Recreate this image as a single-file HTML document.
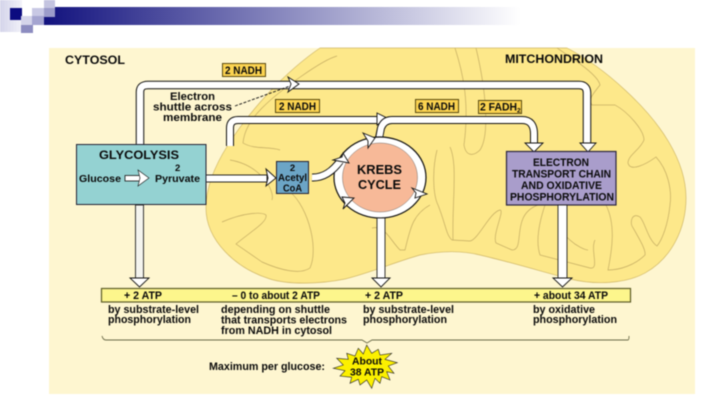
<!DOCTYPE html>
<html><head><meta charset="utf-8"><style>
html,body{margin:0;padding:0;background:#fff;width:720px;height:405px;overflow:hidden}
svg{display:block;filter:blur(0.45px)}
text{font-family:"Liberation Sans",sans-serif;font-weight:bold;fill:#0a0a0a;font-size:10.8px}
.c{fill:none;stroke:#c4ac62;stroke-width:.7}
.k{fill:none;stroke:#111;stroke-linejoin:round}
.w{fill:none;stroke:#fff;stroke-linejoin:round}
.h{fill:#fff;stroke:#111;stroke-width:.9;stroke-linejoin:miter}
.n{fill:#fbd350;stroke:#5a4a10;stroke-width:1}
</style></head><body>
<svg width="720" height="405" viewBox="0 0 720 405" xmlns="http://www.w3.org/2000/svg">
<defs>
<linearGradient id="g" x1="0" x2="1" y1="0" y2="0"><stop offset="0" stop-color="#12127e"/><stop offset="1" stop-color="#fff"/></linearGradient>
<linearGradient id="l" x1="0" x2="1" y1="0" y2="0"><stop offset="0" stop-color="#d4d4ea"/><stop offset="1" stop-color="#fff"/></linearGradient>
</defs>
<rect x="44" y="7" width="476" height="18" fill="url(#g)"/>
<rect x="0" y="0" width="32" height="32" fill="url(#l)"/>
<rect x="10" y="8" width="12" height="12" fill="#0c0c80"/>
<rect x="22" y="0" width="22" height="20" fill="#fff"/>
<rect x="32" y="8" width="12" height="8" fill="#c8c8e4"/>
<rect x="44" y="0" width="11" height="8" fill="#c4c4e0"/>
<rect x="44" y="8" width="11" height="9" fill="#9c9cca"/>
<rect x="32" y="16" width="12" height="9" fill="#a4a4d0"/>
<rect x="21" y="16" width="11" height="9" fill="#d4d4ea"/>
<rect x="21" y="25" width="12" height="8" fill="#8c8cc0"/>

<rect x="49" y="48" width="646" height="346" fill="#fef6d0"/>
<path d="M320 48 C285 72 250 110 228 145 C212 170 206 190 206 208 C206 240 235 268 270 279 C290 285 320 284 345 279 C370 273 395 262 420 255 C440 251 460 250 480 255 C510 262 540 271 570 279 C595 285 625 284 645 273 C672 258 686 228 686 198 C686 160 660 122 625 90 C610 76 590 60 567 48 Z" fill="#fde88a" stroke="#d0b868" stroke-width=".7"/>

<path class="c" d="M337 56 C322 60 280 90 262 108 C250 120 244 132 243 143 C255 150 268 146 280 150"/>
<path class="c" d="M230 160 C260 165 275 190 272 200 M287 190 C305 200 320 245 310 268 C300 275 280 270 262 262 L236 244 C250 232 268 222 266 215 C262 212 245 212 222 222 M284 262"/>
<path class="c" d="M455 48 C462 70 470 100 464 145 C466 157 474 156 480 150 C490 135 486 90 476 48"/>
<path class="c" d="M437 150 C432 170 433 195 438 205 C446 225 446 235 452 240 L470 241 C478 240 490 212 500 210 C505 210 492 235 496 243 L512 250 C526 250 510 215 538 205"/>
<path class="c" d="M450 147 C458 165 452 200 453 240"/>
<path class="c" d="M430 205 C412 215 410 230 405 250 L400 250 C390 240 385 225 372 228"/>
<path class="c" d="M557 48 C575 60 598 75 600 85 C592 95 588 100 592 105 L615 105 C628 112 644 130 644 140 C640 150 628 155 628 163 C630 172 645 165 656 157 C668 170 672 190 670 205 C668 225 662 240 657 246 C648 240 645 222 640 217 C632 212 630 222 632 226 C640 240 646 250 645 255 C635 265 620 270 608 270 C612 250 616 225 606 205 M545 205 C540 220 535 240 540 255 L590 268 C600 270 590 250 595 240"/>
<path class="c" d="M560 215 C555 235 582 250 588 250"/>

<!-- shuttle arrow -->
<path class="k" stroke-width="8.500" d="M140 146 V92 Q140 85 148 85 H579 Q587 85 587 93 V144"/>
<path class="w" stroke-width="6.500" d="M140 146 V92 Q140 85 148 85 H579 Q587 85 587 93 V145"/>
<polygon class="h" points="580,143 596,143 588,152"/>
<polygon class="h" points="288,77 299,84 288,92 291,84"/>
<!-- second arrow -->
<path class="k" stroke-width="8" d="M230 146 V128 Q230 120 238 120 H378"/>
<path class="w" stroke-width="6" d="M230 146 V128 Q230 120 238 120 H379"/>
<polygon class="h" points="377,113 387,118 377,125"/>
<!-- krebs out arrow -->
<path class="k" stroke-width="8" d="M379 138 L381 128 Q384 120 392 120 H522 Q534 120 534 134 V144"/>
<path class="w" stroke-width="6" d="M379 139 L381 128 Q384 120 392 120 H522 Q534 120 534 134 V145"/>
<polygon class="h" points="525,143 543,143 534,152"/>

<!-- Krebs -->
<ellipse cx="380" cy="177.500" rx="46" ry="40.500" fill="#fff" stroke="#111" stroke-width="1.200"/>
<ellipse cx="380" cy="177.500" rx="37.500" ry="34.500" fill="#f7b998" stroke="#555" stroke-width=".4"/>
<polygon class="h" points="363,133 375,138 368,148 368,141"/>
<polygon class="h" points="412,188 427,194 415,198 416,193"/>
<polygon class="h" points="342,197 354,198 343,209 345,203"/>
<text x="357" y="174" textLength="45" lengthAdjust="spacingAndGlyphs" style="font-size:12.500px">KREBS</text>
<text x="358" y="189" textLength="43" lengthAdjust="spacingAndGlyphs" style="font-size:12.500px">CYCLE</text>

<!-- Pyruvate to acetyl -->
<rect x="206" y="175" width="61" height="7" fill="#fff" stroke="#111" stroke-width=".9"/>
<polygon class="h" points="266,169 276,178 266,186 268,178"/>
<!-- Acetyl to Krebs -->
<path class="k" stroke-width="8" d="M312 177.500 Q328 178 340 161"/>
<path class="w" stroke-width="6" d="M312 177.500 Q328 178 341 160"/>
<polygon class="h" points="333,160 349,163 343,153 342,157"/>

<!-- boxes -->
<rect x="76.500" y="144.500" width="129.500" height="60" fill="#94d2d2" stroke="#223" stroke-width="1"/>
<text x="99" y="159" textLength="80" lengthAdjust="spacingAndGlyphs" style="font-size:11.500px">GLYCOLYSIS</text>
<text x="175" y="171" style="font-size:9.500px">2</text>
<text x="79" y="182" textLength="42" lengthAdjust="spacingAndGlyphs" style="font-size:10.500px">Glucose</text>
<text x="155" y="182" textLength="45" lengthAdjust="spacingAndGlyphs" style="font-size:10.500px">Pyruvate</text>
<rect x="125" y="175.500" width="15" height="5.500" fill="#fff" stroke="#111" stroke-width=".8"/>
<polygon points="138,170 149,178 138,186 140,178" fill="#fff" stroke="#111" stroke-width=".6"/>

<rect x="276.500" y="161.500" width="32" height="32" fill="#6ca5c6" stroke="#223" stroke-width="1"/>
<text x="292.500" y="171" text-anchor="middle" style="font-size:9.500px">2</text>
<text x="278" y="181" textLength="29" lengthAdjust="spacingAndGlyphs" style="font-size:10.500px">Acetyl</text>
<text x="283" y="191.500" textLength="19" lengthAdjust="spacingAndGlyphs" style="font-size:10.500px">CoA</text>

<rect x="506.500" y="151.500" width="109.500" height="53.500" fill="#a99dcb" stroke="#2a2540" stroke-width="1.200"/>
<text x="533" y="166" textLength="56" lengthAdjust="spacingAndGlyphs">ELECTRON</text>
<text x="512" y="177.500" textLength="99" lengthAdjust="spacingAndGlyphs">TRANSPORT CHAIN</text>
<text x="521" y="189" textLength="81" lengthAdjust="spacingAndGlyphs">AND OXIDATIVE</text>
<text x="510" y="200.500" textLength="104" lengthAdjust="spacingAndGlyphs">PHOSPHORYLATION</text>

<!-- down arrows -->
<rect x="135.500" y="205" width="8" height="74" fill="#f4f4ee" stroke="#222" stroke-width=".9"/>
<polygon class="h" points="130,278 149,278 139.500,287"/>
<rect x="377" y="218" width="8" height="61" fill="#fff" stroke="#222" stroke-width=".9"/>
<polygon class="h" points="372,278 390,278 381,287"/>
<rect x="558" y="205" width="9" height="74" fill="#fff" stroke="#222" stroke-width=".9"/>
<polygon class="h" points="553,278 572,278 562.500,287"/>

<!-- labels -->
<text x="65" y="64" textLength="60" lengthAdjust="spacingAndGlyphs" style="font-size:11.500px">CYTOSOL</text>
<text x="505" y="63" textLength="98" lengthAdjust="spacingAndGlyphs" style="font-size:11.500px">MITCHONDRION</text>
<rect class="n" x="222.500" y="63.500" width="43" height="13"/>
<text x="225" y="74" textLength="37" lengthAdjust="spacingAndGlyphs">2 NADH</text>
<rect class="n" x="275.500" y="99.500" width="44" height="13"/>
<text x="279" y="110" textLength="37" lengthAdjust="spacingAndGlyphs">2 NADH</text>
<rect class="n" x="415.500" y="99.500" width="43" height="13"/>
<text x="418" y="110" textLength="37" lengthAdjust="spacingAndGlyphs">6 NADH</text>
<rect class="n" x="478.500" y="100.500" width="43" height="13"/>
<text x="480" y="110.500" textLength="37" lengthAdjust="spacingAndGlyphs">2 FADH</text>
<text x="517" y="112.500" style="font-size:6.500px">2</text>

<text x="170" y="100" textLength="45" lengthAdjust="spacingAndGlyphs">Electron</text>
<text x="153" y="110.500" textLength="79" lengthAdjust="spacingAndGlyphs">shuttle across</text>
<text x="163" y="121" textLength="59" lengthAdjust="spacingAndGlyphs">membrane</text>
<path d="M235 106 L290 86" stroke="#111" stroke-width=".9" stroke-dasharray="3 1.500" fill="none"/>

<!-- ATP bar -->
<rect x="101.500" y="288.500" width="529" height="13.500" fill="#fdf68c" stroke="#5c5c28" stroke-width="1.200"/>
<text x="124" y="299" textLength="38" lengthAdjust="spacingAndGlyphs">+ 2 ATP</text>
<text x="232" y="299" textLength="88" lengthAdjust="spacingAndGlyphs">– 0 to about 2 ATP</text>
<text x="365" y="299" textLength="38" lengthAdjust="spacingAndGlyphs">+ 2 ATP</text>
<text x="534" y="299" textLength="74" lengthAdjust="spacingAndGlyphs">+ about 34 ATP</text>

<text x="108" y="313" textLength="91" lengthAdjust="spacingAndGlyphs">by substrate-level</text>
<text x="108" y="323" textLength="83" lengthAdjust="spacingAndGlyphs">phosphorylation</text>
<text x="221" y="313" textLength="109" lengthAdjust="spacingAndGlyphs">depending on shuttle</text>
<text x="221" y="323.500" textLength="126" lengthAdjust="spacingAndGlyphs">that transports electrons</text>
<text x="221" y="334" textLength="111" lengthAdjust="spacingAndGlyphs">from NADH in cytosol</text>
<text x="363" y="313" textLength="91" lengthAdjust="spacingAndGlyphs">by substrate-level</text>
<text x="363" y="323" textLength="84" lengthAdjust="spacingAndGlyphs">phosphorylation</text>
<text x="533" y="313" textLength="62" lengthAdjust="spacingAndGlyphs">by oxidative</text>
<text x="533" y="323" textLength="84" lengthAdjust="spacingAndGlyphs">phosphorylation</text>

<path d="M102 336 Q103 340 106 340 H362 L367 343 L372 340 H628 Q629 340 629 336" fill="none" stroke="#6a6a48" stroke-width=".9"/>

<text x="209" y="370" textLength="116" lengthAdjust="spacingAndGlyphs" style="font-size:11px">Maximum per glucose:</text>
<polygon points="346.700,353.300 355,356 358.300,348.300 363.300,354 366.700,345 371.700,353.300 378.300,349.300 380,355 391.700,353.300 385,359.300 397.300,362.700 388.300,366 394,373.300 386.700,371.700 390,380 381.700,376.700 380,383.300 375,378.300 371.700,388.300 366.700,380 360,385 358.300,379.300 350,383.300 351.700,377.300 340,376 345,370.700 333.300,368.300 343.300,365 336.700,358.300 348.300,359.300" fill="#fcf000" stroke="#222" stroke-width=".6"/>
<text x="352" y="364.500" textLength="30" lengthAdjust="spacingAndGlyphs" style="font-size:10px">About</text>
<text x="350" y="375.500" textLength="34" lengthAdjust="spacingAndGlyphs" style="font-size:10px">38 ATP</text>
</svg>
</body></html>
